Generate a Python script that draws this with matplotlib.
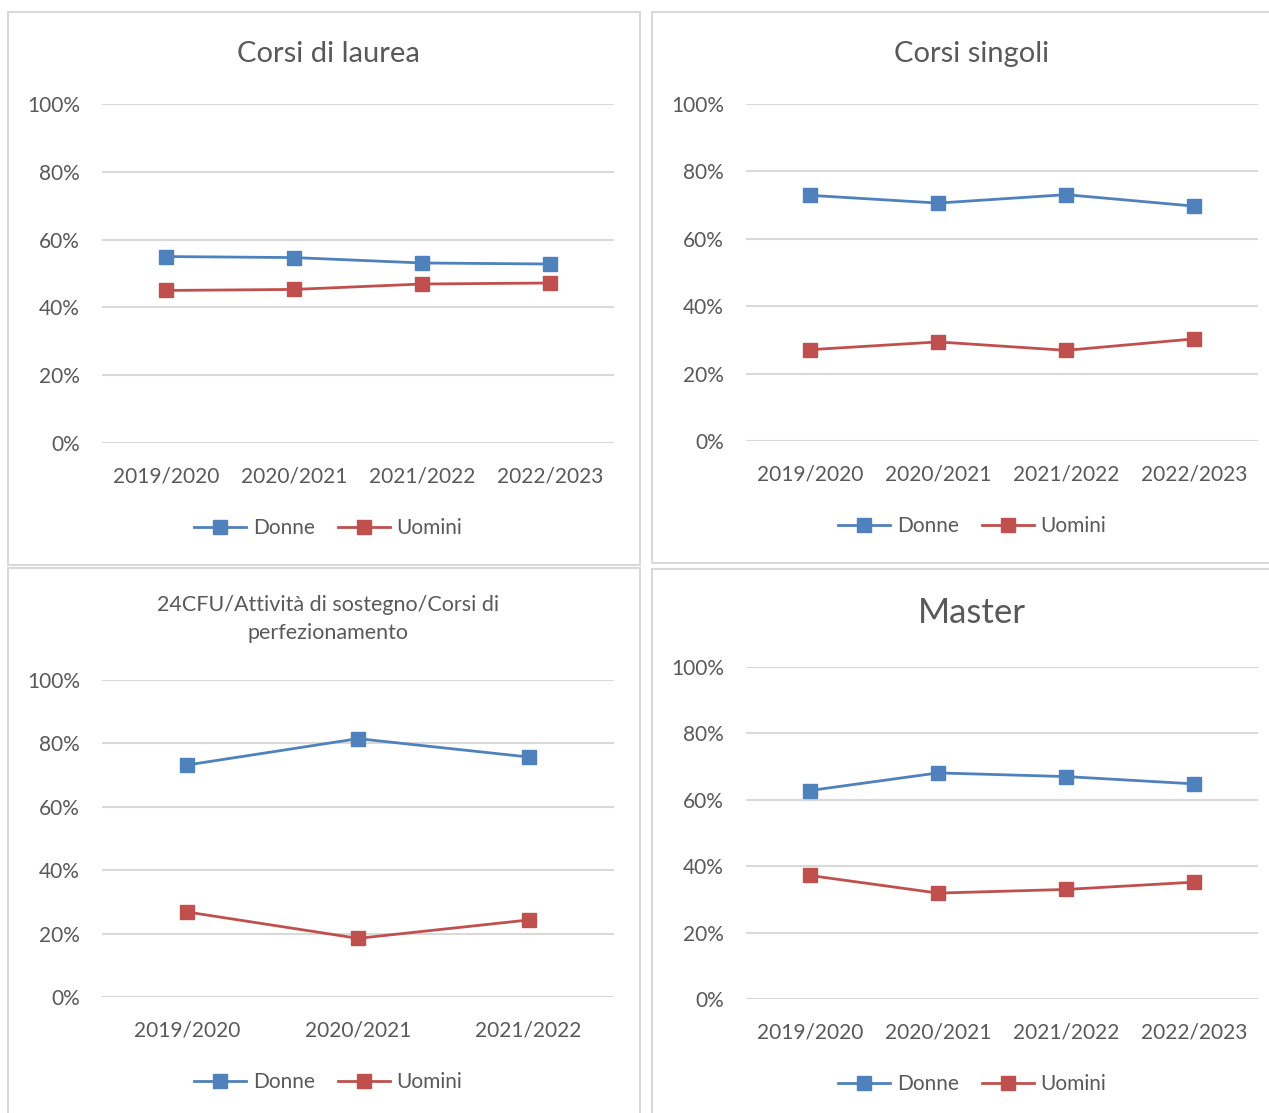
import matplotlib.pyplot as plt
from matplotlib.patches import Rectangle
from matplotlib.ticker import FuncFormatter

# data (share of enrolled, women / men)
anni4 = ["2019/2020", "2020/2021", "2021/2022", "2022/2023"]
anni3 = ["2019/2020", "2020/2021", "2021/2022"]

laurea_donne = [0.550, 0.547, 0.531, 0.528]
laurea_uomini = [0.450, 0.453, 0.469, 0.472]

singoli_donne = [0.729, 0.706, 0.731, 0.697]
singoli_uomini = [0.271, 0.294, 0.269, 0.303]

cfu_donne = [0.732, 0.815, 0.757]
cfu_uomini = [0.268, 0.185, 0.243]

master_donne = [0.628, 0.681, 0.670, 0.648]
master_uomini = [0.372, 0.319, 0.330, 0.352]

W, H = 1269, 1113
BLUE = "#4F81BD"
RED = "#C0504D"
GRID = "#D9D9D9"
TXT = "#595959"

plt.rcParams['font.family'] = ['Lato', 'DejaVu Sans']


def px_rect(x0, y0, x1, y1):
    return [x0 / W, 1 - y1 / H, (x1 - x0) / W, (y1 - y0) / H]


def draw_panel(fig, box, plot, cats, donne, uomini, title, title_y, title_size,
               legend_y, cx):
    # panel border
    bx0, by0, bx1, by1 = box
    fig.patches.append(Rectangle((bx0 / W, 1 - by1 / H), (bx1 - bx0) / W, (by1 - by0) / H,
                                 transform=fig.transFigure, fill=False,
                                 edgecolor=GRID, linewidth=1.5))
    ax = fig.add_axes(px_rect(*plot))
    x = list(range(len(cats)))
    ax.plot(x, donne, color=BLUE, lw=2, marker="s", ms=10.5, label="Donne")
    ax.plot(x, uomini, color=RED, lw=2, marker="s", ms=10.5, label="Uomini")
    ax.set_xlim(-0.5, len(cats) - 0.5)
    ax.set_ylim(0, 1)
    ax.set_yticks([0, 0.2, 0.4, 0.6, 0.8, 1.0])
    ax.yaxis.set_major_formatter(FuncFormatter(lambda v, p: f"{v * 100:.0f}%"))
    ax.set_xticks(x)
    ax.set_xticklabels(cats)
    ax.grid(axis="y", color=GRID, lw=1.5)
    ax.set_axisbelow(True)
    for s in ax.spines.values():
        s.set_visible(False)
    ax.tick_params(length=0, labelsize=15, labelcolor=TXT)
    ax.tick_params(axis="y", pad=16)
    ax.tick_params(axis="x", pad=17)

    fig.text(cx / W, 1 - title_y / H, title, ha="center", va="center",
             fontsize=title_size, color=TXT, linespacing=1.55)
    ax.legend(loc="center", bbox_to_anchor=(cx / W, 1 - legend_y / H),
              bbox_transform=fig.transFigure, ncol=2, frameon=False,
              fontsize=15, labelcolor=TXT, handlelength=2.5,
              handletextpad=0.3, columnspacing=1.1)
    return ax


def main():
    fig = plt.figure(figsize=(W / 100, H / 100), dpi=100)

    draw_panel(fig, (8, 12, 640, 565), (102, 104, 614, 443), anni4,
               laurea_donne, laurea_uomini, "Corsi di laurea", 54, 21, 528, 328)
    draw_panel(fig, (652, 12, 1275, 563), (746, 104, 1258, 441), anni4,
               singoli_donne, singoli_uomini, "Corsi singoli", 54, 21, 526, 972)
    draw_panel(fig, (8, 568, 640, 1120), (102, 680, 614, 997), anni3,
               cfu_donne, cfu_uomini,
               "24CFU/Attività di sostegno/Corsi di\nperfezionamento", 619, 15.5, 1082, 328)
    draw_panel(fig, (652, 569, 1275, 1120), (746, 667, 1258, 999), anni4,
               master_donne, master_uomini, "Master", 613, 25, 1084, 972)

    fig.savefig("out.png", dpi=100, facecolor="white")


if __name__ == '__main__':
    main()
